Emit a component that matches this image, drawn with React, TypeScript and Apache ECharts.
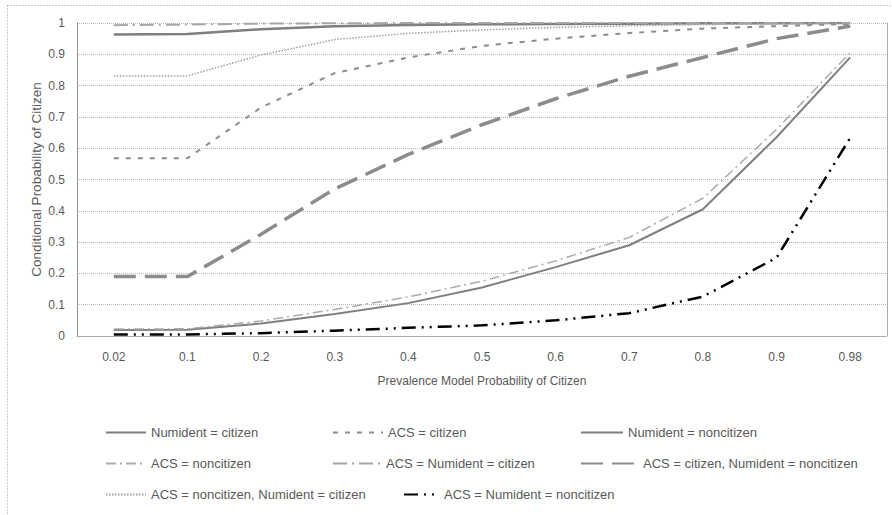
import React, { useEffect, useRef } from "react";
import * as echarts from "echarts";

// Prevalence-model probability of citizen (x categories)
const categories = ["0.02", "0.1", "0.2", "0.3", "0.4", "0.5", "0.6", "0.7", "0.8", "0.9", "0.98"];

// Conditional probability of citizen for each evidence pattern
const numidentCitizen = [0.963, 0.965, 0.98, 0.99, 0.994, 0.996, 0.997, 0.998, 0.999, 0.999, 1.0];
const acsCitizen = [0.568, 0.568, 0.73, 0.84, 0.89, 0.927, 0.95, 0.968, 0.982, 0.99, 0.997];
const numidentNoncitizen = [0.019, 0.02, 0.04, 0.07, 0.105, 0.155, 0.22, 0.29, 0.405, 0.635, 0.89];
const acsNoncitizen = [0.022, 0.023, 0.048, 0.085, 0.125, 0.175, 0.24, 0.315, 0.44, 0.66, 0.905];
const acsNumidentCitizen = [0.993, 0.995, 0.998, 0.999, 1.0, 1.0, 1.0, 1.0, 1.0, 1.0, 1.0];
const acsCitNumNoncit = [0.19, 0.19, 0.325, 0.47, 0.58, 0.675, 0.758, 0.83, 0.89, 0.95, 0.99];
const acsNoncitNumCit = [0.831, 0.831, 0.898, 0.947, 0.967, 0.978, 0.986, 0.991, 0.995, 0.998, 1.0];
const acsNumidentNoncitizen = [0.005, 0.005, 0.009, 0.017, 0.026, 0.034, 0.05, 0.073, 0.126, 0.25, 0.633];

const FONT = "'Liberation Sans', Arial, sans-serif";
const TEXT = "#595959";

type Item = {
  name: string;
  data: number[];
  color: string;
  width: number;
  dash: number[] | "solid";
  lx: number;
  ly: number;
  lw: number;
};

const items: Item[] = [
  { name: "Numident = citizen", data: numidentCitizen, color: "#7f7f7f", width: 2.5, dash: "solid", lx: 105, ly: 433, lw: 40 },
  { name: "ACS = citizen", data: acsCitizen, color: "#8c8c8c", width: 2, dash: [5, 7], lx: 332, ly: 433, lw: 50 },
  { name: "Numident = noncitizen", data: numidentNoncitizen, color: "#7f7f7f", width: 2, dash: "solid", lx: 580, ly: 433, lw: 42 },
  { name: "ACS = noncitizen", data: acsNoncitizen, color: "#ababab", width: 1.5, dash: [10, 4, 2, 4], lx: 105, ly: 464, lw: 40 },
  { name: "ACS = Numident = citizen", data: acsNumidentCitizen, color: "#a6a6a6", width: 2, dash: [14, 5, 2, 5], lx: 332, ly: 464, lw: 48 },
  { name: "ACS = citizen, Numident = noncitizen", data: acsCitNumNoncit, color: "#8c8c8c", width: 3.5, dash: [22, 9], lx: 580, ly: 464, lw: 57 },
  { name: "ACS = noncitizen, Numident = citizen", data: acsNoncitNumCit, color: "#a0a0a0", width: 1.5, dash: [1.5, 1.5], lx: 105, ly: 495, lw: 40 },
  { name: "ACS = Numident = noncitizen", data: acsNumidentNoncitizen, color: "#000000", width: 2.5, dash: [14, 6, 2, 6, 2, 6], lx: 403, ly: 495, lw: 35 },
];

export default function App() {
  const ref = useRef<HTMLDivElement>(null);

  useEffect(() => {
    if (!ref.current) return;
    const chart = echarts.init(ref.current, undefined, { renderer: "svg" });

    chart.setOption({
      animation: false,
      backgroundColor: "#ffffff",
      textStyle: { fontFamily: FONT },
      grid: { left: 77, right: 5, top: 23, bottom: 179, containLabel: false },
      xAxis: {
        type: "category",
        data: categories,
        boundaryGap: true,
        name: "Prevalence Model Probability of Citizen",
        nameLocation: "middle",
        nameGap: 39,
        nameMoveOverlap: false,
        nameTextStyle: { color: TEXT, fontSize: 12, fontFamily: FONT },
        axisLine: { show: true, lineStyle: { color: "#9a9a9a", type: "dotted", width: 1 } },
        axisTick: { show: false },
        axisLabel: { color: TEXT, fontSize: 12, margin: 15, fontFamily: FONT },
        splitLine: { show: false },
      },
      yAxis: [
        {
          type: "value",
          min: 0,
          max: 1,
          interval: 0.1,
          name: "Conditional Probability of Citizen",
          nameLocation: "middle",
          nameGap: 34,
          nameMoveOverlap: false,
          nameTextStyle: { color: TEXT, fontSize: 13.5, fontFamily: FONT },
          axisLine: { show: true, lineStyle: { color: "#7a7a7a", type: "dotted", width: 1 } },
          axisTick: { show: false },
          axisLabel: { color: TEXT, fontSize: 12, margin: 12, fontFamily: FONT },
          splitLine: { show: true, lineStyle: { color: "#b8b8b8", type: "dotted", width: 1 } },
        },
        {
          type: "value",
          position: "right",
          min: 0,
          max: 1,
          interval: 0.1,
          axisLine: { show: true, lineStyle: { color: "#9a9a9a", type: "dotted", width: 1 } },
          axisTick: { show: false },
          axisLabel: { show: false },
          splitLine: { show: false },
        },
      ],
      legend: items.map((it) => ({
        data: [it.name],
        left: it.lx,
        top: it.ly - 7,
        padding: 0,
        itemWidth: it.lw,
        itemHeight: 14,
        itemGap: 0,
        itemStyle: { color: "rgba(0,0,0,0)", borderColor: "rgba(0,0,0,0)", borderWidth: 0 },
        textStyle: { color: TEXT, fontSize: 13, fontFamily: FONT },
      })),
      graphic: [
        {
          type: "rect",
          left: 5,
          top: 3,
          shape: { x: 0, y: 0, width: 1000, height: 1000 },
          style: { fill: "none", stroke: "#9a9a9a", lineWidth: 1, lineDash: [1, 2] },
          silent: true,
          z: -1,
        },
      ],
      series: items.map((it) => ({
        name: it.name,
        type: "line",
        data: it.data,
        symbol: "none",
        showSymbol: false,
        lineStyle: { color: it.color, width: it.width, type: it.dash },
        itemStyle: { color: it.color },
      })),
    });

    return () => chart.dispose();
  }, []);

  return (
    <div
      ref={ref}
      style={{ position: "fixed", left: 0, top: 0, width: 892, height: 515, background: "#fff" }}
    />
  );
}
